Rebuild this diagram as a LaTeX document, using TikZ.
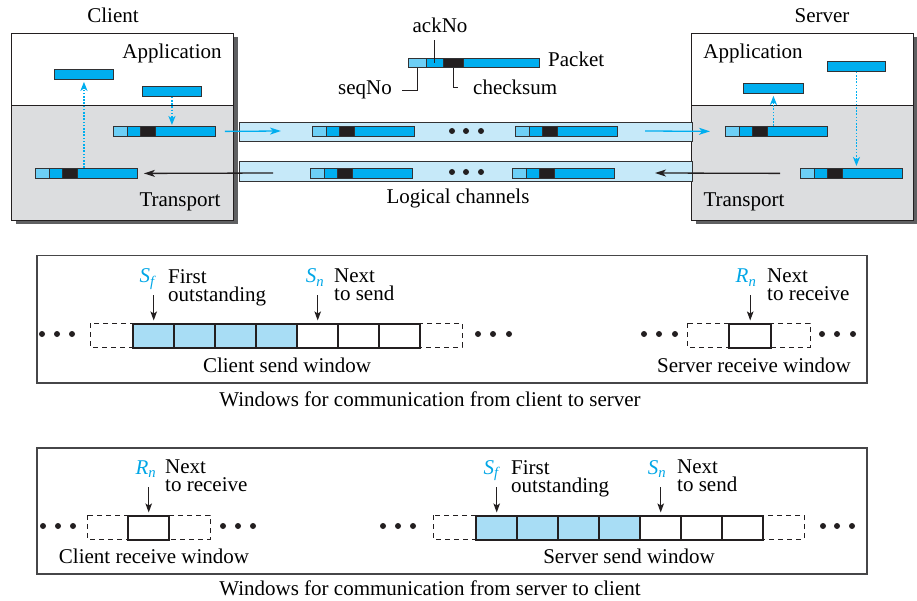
\documentclass[tikz,border=0pt]{standalone}
\usepackage{fontspec}
\setmainfont{Liberation Serif}
\usetikzlibrary{arrows.meta,calc}
\definecolor{cblue}{RGB}{0,174,239}
\definecolor{lblue}{RGB}{109,207,246}
\definecolor{chfill}{RGB}{198,233,249}
\definecolor{cellfill}{RGB}{168,221,245}
\definecolor{grayfill}{RGB}{220,221,223}
\definecolor{shadowc}{RGB}{95,96,98}
\definecolor{blk}{RGB}{35,31,32}
\definecolor{pkline}{RGB}{50,50,52}
\definecolor{panelc}{RGB}{70,70,72}
\definecolor{sblue}{RGB}{0,166,230}
% packet: name, left x, top y
\newcommand\pkt[3]{%
  \fill[lblue] (#2,#3) rectangle ++(14,10);
  \fill[cblue] (#2+14,#3) rectangle ++(13,10);
  \fill[blk] (#2+27,#3) rectangle ++(15,10);
  \fill[cblue] (#2+42,#3) rectangle ++(60,10);
  \draw[pkline, line width=0.8pt] (#2+14,#3) -- ++(0,10) (#2+27,#3) -- ++(0,10) (#2+42,#3) -- ++(0,10);
  \node[pktnode] (#1) at (#2,#3) {};
}
\begin{document}
\begin{tikzpicture}[x=1pt,y=-1pt,
  txt/.style={inner sep=0pt, font=\fontsize{21}{18}\selectfont},
  bar/.style={draw=pkline, line width=0.9pt, fill=cblue, minimum height=10pt, inner sep=0pt, anchor=north west},
  pktnode/.style={draw=pkline, line width=0.9pt, minimum width=102pt, minimum height=10pt, inner sep=0pt, anchor=north west},
  seg/.style={draw=pkline, line width=0.8pt, minimum height=9pt, inner sep=0pt, anchor=north west},
  chan/.style={draw=pkline, line width=1pt, fill=chfill, minimum width=453pt, minimum height=19pt, inner sep=0pt, anchor=north west},
  dotarr/.style={cblue, line width=1.7pt, dash pattern=on 1.6pt off 1.6pt, -{Stealth[length=9pt,width=7pt,inset=2.5pt]}},
  barr/.style={cblue, line width=1.3pt, -{Stealth[length=11pt,width=7pt,inset=3pt]}},
  karr/.style={blk, line width=1.3pt, -{Stealth[length=11pt,width=7pt,inset=3pt]}},
  warr/.style={blk, line width=1.3pt, -{Stealth[length=9pt,width=6.5pt,inset=2pt]}},
  cell/.style={draw=blk, line width=2.4pt, minimum width=41pt, minimum height=24pt, inner sep=0pt, anchor=north west},
  dashbox/.style={draw=blk, line width=0.9pt, dash pattern=on 5pt off 4pt},
  panel/.style={draw=panelc, line width=1.5pt, inner sep=0pt, anchor=north west, minimum width=830pt},
  wdot/.style={fill=blk},
  lead/.style={draw=blk, line width=1pt},
  hostbox/.style={draw=blk, line width=1pt, minimum height=187pt, inner sep=0pt, anchor=north west},
]
\useasboundingbox (0,0) rectangle (917,601);

% ---------- Client host ----------
\fill[shadowc] (16,37) rectangle (238,224);
\fill[white] (11,33) rectangle (233,106);
\fill[grayfill] (11,106) rectangle (233,220);
\node[hostbox, minimum width=222pt] (client) at (11,33) {};
\draw[blk, line width=1pt] (11,106) -- (233,106);
\node[txt, anchor=base] (clientlbl) at (113,23) {Client};
\node[txt, anchor=base] (capp) at (172,59) {Application};
\node[txt, anchor=base] (ctrans) at (180,207) {Transport};

% ---------- Server host ----------
\fill[shadowc] (696,37) rectangle (917,224);
\fill[white] (691,33) rectangle (913,106);
\fill[grayfill] (691,106) rectangle (913,220);
\node[hostbox, minimum width=222pt] (server) at (691,33) {};
\draw[blk, line width=1pt] (691,106) -- (913,106);
\node[txt, anchor=base] (serverlbl) at (822,23) {Server};
\node[txt, anchor=base] (sapp) at (753,59) {Application};
\node[txt, anchor=base] (strans) at (744,207) {Transport};

% ---------- Channels ----------
\node[chan] (ch1) at (239,122) {};
\node[chan, minimum height=20pt] (ch2) at (239,161) {};
\node[txt, anchor=base] (logic) at (458,204) {Logical channels};

% ---------- Client packets ----------
\node[bar, minimum width=59pt] (ca1) at (54,69) {};
\node[bar, minimum width=59pt] (ca2) at (142,86) {};
\pkt{cp1}{113}{126}
\pkt{cp2}{35}{168}
\draw[dotarr, shorten >=2pt] (cp2.north -| ca1) -- (ca1.south);
\draw[dotarr, shorten >=1pt] (ca2.south) -- (cp1.north -| ca2);

% ---------- Server packets ----------
\node[bar, minimum width=60pt] (sa1) at (743,83) {};
\node[bar, minimum width=58pt] (sa2) at (827,61) {};
\pkt{sp1}{725}{126}
\pkt{sp2}{800}{168}
\draw[dotarr, shorten >=2pt] (sp1.north -| sa1) -- (sa1.south);
\draw[dotarr, shorten >=2pt] (sa2.south) -- (sp2.north -| sa2);

% ---------- Packets in channels ----------
\pkt{p11}{312}{126}
\pkt{p12}{515}{126}
\pkt{p21}{310}{168}
\pkt{p22}{512}{168}
\foreach \x in {452,466,481} {
  \fill[wdot] (\x,131) circle (3);
  \fill[wdot] (\x,172) circle (3);
}

% ---------- Flow arrows ----------
\coordinate (c2s) at (281,131);
\coordinate (s2in) at (645,131);
\coordinate (s2c) at (273,173);
\coordinate (c2in) at (655,173);
\draw[barr, shorten <=9pt] (cp1.east) -- (c2s);
\draw[barr, shorten >=15pt] (s2in) -- (sp1.west);
\draw[karr, shorten <=20pt] (sp2.west) -- (c2in);
\draw[karr, shorten >=6pt] (s2c) -- (cp2.east);

% ---------- Packet legend ----------
\node[seg, fill=lblue, minimum width=18pt] (lseg1) at (408,58) {};
\node[seg, fill=cblue, minimum width=17pt] (lseg2) at (426,58) {};
\node[seg, fill=blk, minimum width=20pt] (lseg3) at (443,58) {};
\node[seg, fill=cblue, minimum width=76pt] (lseg4) at (463,58) {};
\node[txt, anchor=base west] (pkttxt) at (548,67) {Packet};
\node[txt, anchor=base] (ack) at (440,33) {ackNo};
\node[txt, anchor=base east] (seq) at (392,95) {seqNo};
\node[txt, anchor=base west] (chk) at (473,95) {checksum};
\draw[lead] ([yshift=-7pt]ack.south -| lseg2.center) -- (lseg2.center);
\draw[lead] ([xshift=10pt]seq.east) -| (lseg1.south);
\draw[lead] (lseg3.south) |- ([xshift=-15pt]chk.west);

% ---------- Panel 1 ----------
\node[panel, minimum height=127pt] (panel1) at (36,255) {};
% client send window
\draw[dashbox] (90,323) rectangle (462,347);
\foreach \i/\f in {0/cellfill,1/cellfill,2/cellfill,3/cellfill,4/white,5/white,6/white}
  \node[cell, fill=\f] (cs\i) at (132+41*\i,323) {};
\foreach \x in {42,57,72,478,493,509} \fill[wdot] (\x,334) circle (3);
\node[txt, anchor=base, text=sblue] (sf1) at (148,283) {\textit{S}\textsubscript{\textit{f}}};
\node[txt, anchor=north west, align=left] (sf1t) at (168,269) {First\\outstanding};
\node[txt, anchor=base, text=sblue] (sn1) at (315,283) {\textit{S}\textsubscript{\textit{n}}};
\node[txt, anchor=north west, align=left] (sn1t) at (334,269) {Next\\to send};
\path (cs0.north) ++(0,-28) coordinate (sf1a);
\path (cs4.north) ++(0,-28) coordinate (sn1a);
\draw[warr, shorten >=2.5pt] (sf1a) -- (cs0.north);
\draw[warr, shorten >=2.5pt] (sn1a) -- (cs4.north);
\node[txt, anchor=base] (csw) at (287,372) {Client send window};
% server receive window
\draw[dashbox] (687,323) rectangle (810,347);
\node[cell, fill=white, minimum width=42pt] (sr0) at (728,323) {};
\foreach \x in {644,659,675,822,837,853} \fill[wdot] (\x,334) circle (3);
\node[txt, anchor=base, text=sblue] (rn1) at (746,283) {\textit{R}\textsubscript{\textit{n}}};
\node[txt, anchor=north west, align=left] (rn1t) at (767,269) {Next\\to receive};
\path (sr0.north) ++(0,-28) coordinate (rn1a);
\draw[warr, shorten >=2.5pt] (rn1a) -- (sr0.north);
\node[txt, anchor=base] (srw) at (754,372) {Server receive window};
\node[txt, anchor=base] (cap1) at (430,406) {Windows for communication from client to server};

% ---------- Panel 2 ----------
\node[panel, minimum height=126pt] (panel2) at (36,447) {};
% client receive window
\draw[dashbox] (87,515) rectangle (210,539);
\node[cell, fill=white] (cr0) at (127,515) {};
\foreach \x in {43,58,73,223,238,253,383,398,413,823,837,852} \fill[wdot] (\x,526) circle (3);
\node[txt, anchor=base, text=sblue] (rn2) at (146,474) {\textit{R}\textsubscript{\textit{n}}};
\node[txt, anchor=north west, align=left] (rn2t) at (165,460) {Next\\to receive};
\path (cr0.north) ++(0,-28) coordinate (rn2a);
\draw[warr, shorten >=2.5pt] (rn2a) -- (cr0.north);
\node[txt, anchor=base] (crw) at (154,563) {Client receive window};
% server send window
\draw[dashbox] (433,515) rectangle (804,539);
\foreach \i/\f in {0/cellfill,1/cellfill,2/cellfill,3/cellfill,4/white,5/white,6/white}
  \node[cell, fill=\f] (ss\i) at (475+41*\i,515) {};
\node[txt, anchor=base, text=sblue] (sf2) at (492,474) {\textit{S}\textsubscript{\textit{f}}};
\node[txt, anchor=north west, align=left] (sf2t) at (511,460) {First\\outstanding};
\node[txt, anchor=base, text=sblue] (sn2) at (657,474) {\textit{S}\textsubscript{\textit{n}}};
\node[txt, anchor=north west, align=left] (sn2t) at (677,460) {Next\\to send};
\path (ss0.north) ++(0,-28) coordinate (sf2a);
\path (ss4.north) ++(0,-28) coordinate (sn2a);
\draw[warr, shorten >=2.5pt] (sf2a) -- (ss0.north);
\draw[warr, shorten >=2.5pt] (sn2a) -- (ss4.north);
\node[txt, anchor=base] (ssw) at (629,563) {Server send window};
\node[txt, anchor=base] (cap2) at (430,595) {Windows for communication from server to client};
\end{tikzpicture}
\end{document}
